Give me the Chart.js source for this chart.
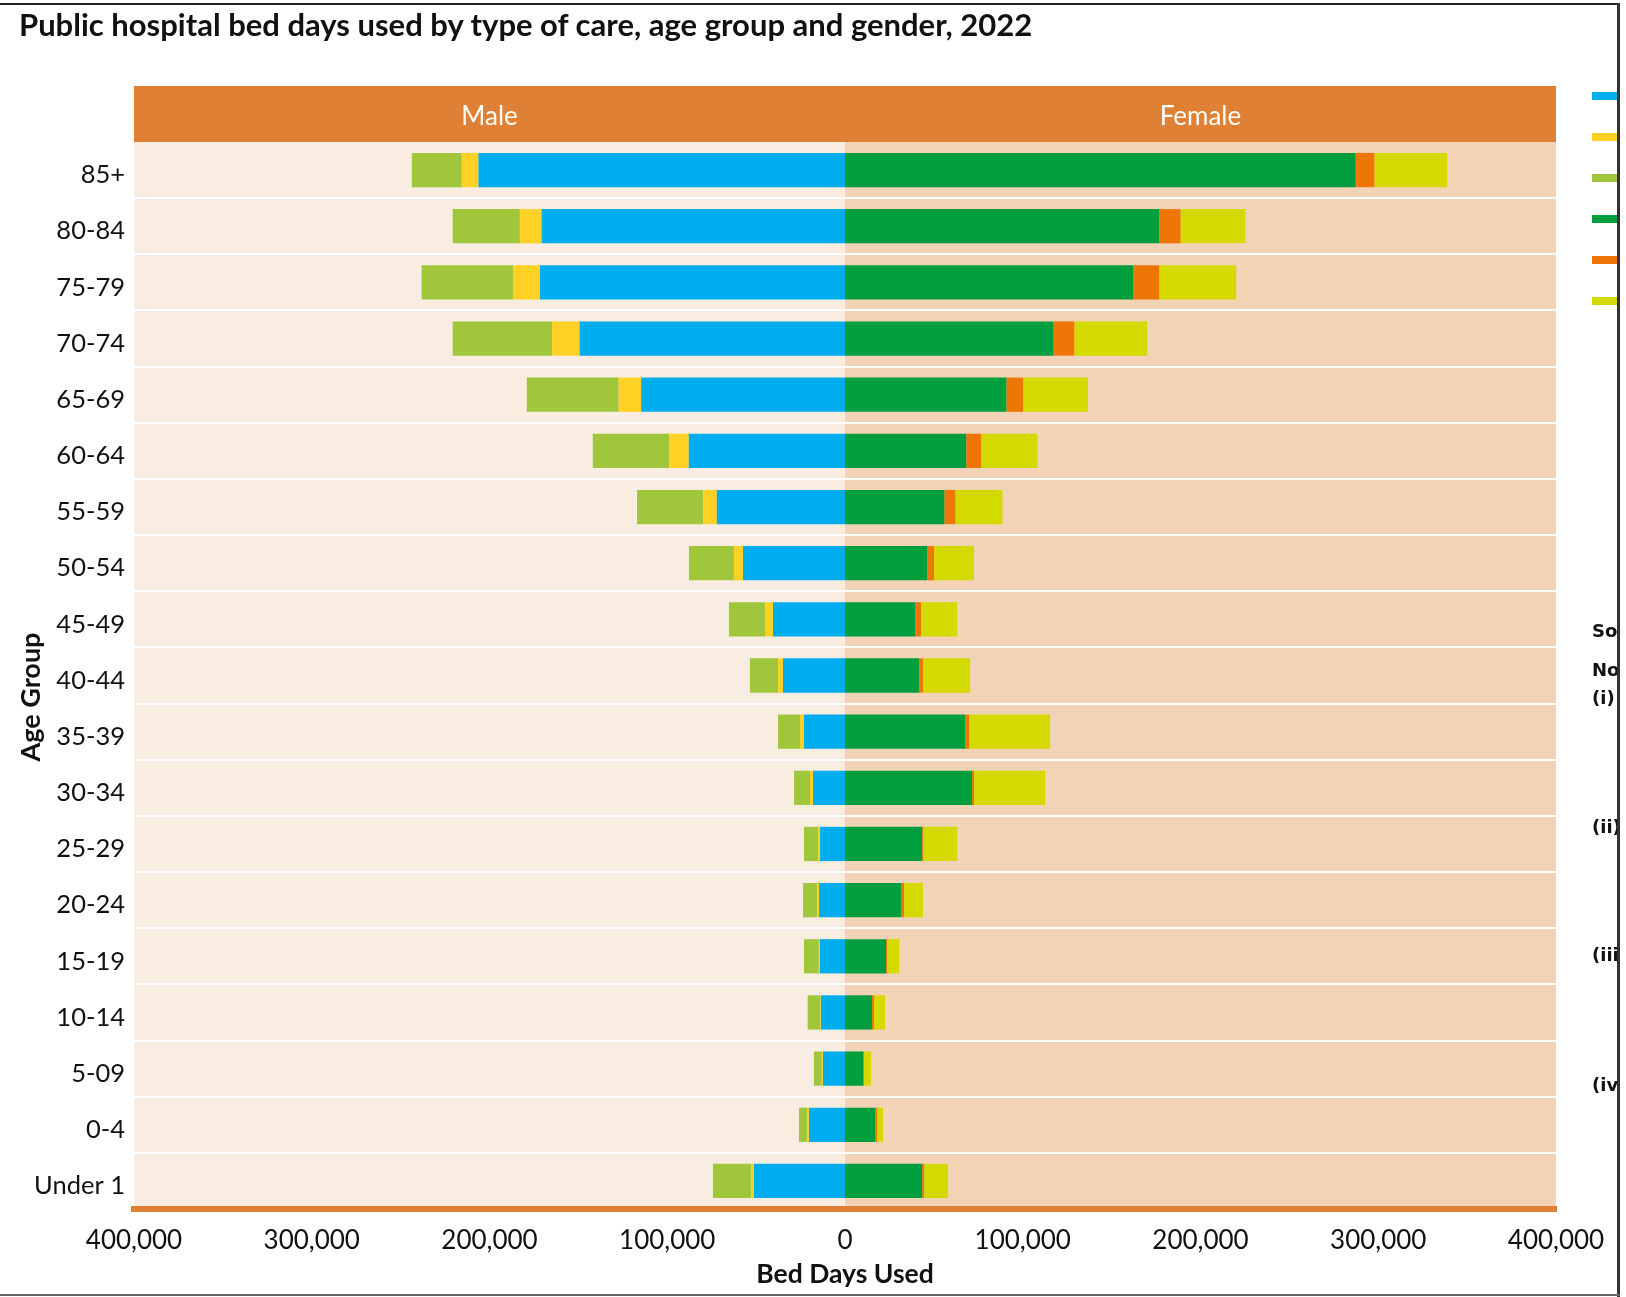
<!DOCTYPE html>
<html>
<head>
<meta charset="utf-8">
<script src="https://cdn.jsdelivr.net/npm/chart.js@4.4.1/dist/chart.umd.min.js"></script>
<style>
  body { margin: 0; background: #fff; overflow: hidden; }
  #wrap { position: absolute; left: 0; top: 0; width: 1626px; height: 1297px; }
  #title {
    position: absolute; left: 19px; top: 6px; margin: 0;
    font: bold 31px Lato, sans-serif; color: #111; line-height: 36px; white-space: nowrap;
  }
  #side { position: absolute; left: 1592px; top: 0; width: 26px; height: 1297px; overflow: hidden; }
  .swatch { position: absolute; left: 0; width: 40px; height: 8px; }
  .note { position: absolute; left: 0; font: bold 18px "DejaVu Sans", sans-serif; color: #111; white-space: nowrap; line-height: 22px; }
  .frame { position: absolute; }
</style>
</head>
<body>
<div id="wrap"><canvas id="pyramid"></canvas></div>
<h1 id="title">Public hospital bed days used by type of care, age group and gender, 2022</h1>
<div id="side"></div>
<div class="frame" style="left:0;top:3px;width:1620px;height:2px;background:#222"></div>
<div class="frame" style="left:1617px;top:3px;width:3px;height:1294px;background:#333"></div>
<div class="frame" style="left:0;top:1294px;width:1620px;height:2px;background:#666"></div>

<script>
// =======================
// Data
// =======================

const ageGroups = ["85+", "80-84", "75-79", "70-74", "65-69", "60-64", "55-59", "50-54", "45-49",
  "40-44", "35-39", "30-34", "25-29", "20-24", "15-19", "10-14", "5-09", "0-4", "Under 1"];

// male series (drawn to the left)
const maleTypeA = [206200, 170700, 171600, 149300, 114700, 87900, 72100, 57400, 40500, 34900,
  23100, 18000, 14100, 14600, 14100, 13500, 12400, 20300, 51200];
const maleTypeB = [9400, 12200, 15200, 15500, 12600, 11000, 7700, 5100, 4500, 2800,
  2200, 1700, 1100, 1100, 600, 200, 600, 1100, 1700];
const maleTypeC = [28100, 37800, 51400, 55900, 51700, 43000, 37200, 25300, 20300, 15800,
  12400, 9000, 7900, 7900, 8400, 7300, 4500, 4500, 21400];

// female series (drawn to the right)
const femaleTypeA = [287300, 176800, 162200, 117300, 90800, 68200, 55900, 46200, 39400, 41700,
  67600, 71500, 43400, 31500, 23100, 15200, 10300, 16900, 43400];
const femaleTypeB = [10500, 12000, 14600, 11700, 9400, 8400, 6200, 3900, 3400, 2200,
  2200, 1100, 600, 1700, 600, 1100, 400, 1100, 1100];
const femaleTypeC = [41000, 36500, 43300, 41000, 36500, 31700, 26500, 22500, 20300, 26500,
  45600, 40000, 19200, 10700, 6800, 6200, 3900, 3400, 13500];

const xTicks = [-400000, -300000, -200000, -100000, 0, 100000, 200000, 300000, 400000];

const seriesColors = ["#00ADEE", "#FFD124", "#A0C73C", "#009E3D", "#EE7607", "#D4DA00"];
const notes = [["Source:", 620], ["Notes:", 659], ["(i)", 687], ["(ii)", 816], ["(iii)", 944], ["(iv)", 1074]];

// =======================
// Side legend (cut off by the frame)
// =======================

const side = document.getElementById("side");
seriesColors.forEach((c, i) => {
  const d = document.createElement("div");
  d.className = "swatch";
  d.style.top = (92 + i * 41) + "px";
  d.style.background = c;
  side.appendChild(d);
});
notes.forEach(([t, y]) => {
  const d = document.createElement("div");
  d.className = "note";
  d.style.top = y + "px";
  d.textContent = t;
  side.appendChild(d);
});

// =======================
// Background, header, y title
// =======================

const panels = {
  id: "panels",
  beforeDraw(chart) {
    const { ctx, chartArea: a, scales } = chart;
    const zero = scales.x.getPixelForValue(0);
    ctx.save();
    ctx.fillStyle = "#F9ECE1";
    ctx.fillRect(a.left, a.top, zero - a.left, a.bottom - a.top);
    ctx.fillStyle = "#F3D3B6";
    ctx.fillRect(zero, a.top, a.right - zero, a.bottom - a.top);
    ctx.fillStyle = "#E08035";
    ctx.fillRect(a.left, 86, a.right - a.left, a.top - 86);
    ctx.fillStyle = "#fff";
    ctx.font = "26px Lato";
    ctx.textAlign = "center";
    ctx.textBaseline = "middle";
    ctx.fillText("Male", (a.left + zero) / 2, (86 + a.top) / 2 + 3);
    ctx.fillText("Female", (zero + a.right) / 2, (86 + a.top) / 2 + 3);

    // "Age Group" sits a little below the middle of the axis
    ctx.translate(31, 697);
    ctx.rotate(-Math.PI / 2);
    ctx.fillStyle = "#111";
    ctx.font = "bold 27px Lato";
    ctx.fillText("Age Group", 0, 0);
    ctx.restore();
  }
};

const fmt = v => Math.abs(v).toLocaleString("en-US");

function ds(label, values, color, sign) {
  return {
    label: label,
    data: values.map(v => sign * v),
    backgroundColor: color,
    borderWidth: 0,
    stack: "all",
    barPercentage: 0.61,
    categoryPercentage: 1
  };
}

const pyramid = document.getElementById("pyramid");

new Chart(pyramid, {
  type: "bar",
  data: {
    labels: ageGroups,
    datasets: [
      ds("Male A", maleTypeA, seriesColors[0], -1),
      ds("Male B", maleTypeB, seriesColors[1], -1),
      ds("Male C", maleTypeC, seriesColors[2], -1),
      ds("Female A", femaleTypeA, seriesColors[3], 1),
      ds("Female B", femaleTypeB, seriesColors[4], 1),
      ds("Female C", femaleTypeC, seriesColors[5], 1)
    ]
  },
  options: {
    indexAxis: "y",
    responsive: true,
    maintainAspectRatio: false,
    animation: false,
    layout: { padding: { left: 0, right: 70, top: 142, bottom: 0 } },
    plugins: {
      legend: { display: false },
      tooltip: { enabled: false }
    },
    scales: {
      x: {
        stacked: true,
        min: -400000,
        max: 400000,
        afterBuildTicks: s => { s.ticks = xTicks.map(v => ({ value: v })); },
        afterFit: s => { s.height = 88; },
        grid: { display: false, drawTicks: false },
        border: { display: true, color: "#E08035", width: 6 },
        ticks: {
          padding: 16,
          color: "#111",
          font: { family: "Lato", size: 26 },
          maxRotation: 0,
          callback: v => fmt(v)
        },
        title: {
          display: true,
          text: "Bed Days Used",
          color: "#111",
          font: { family: "Lato", size: 26.5, weight: "bold" },
          padding: { top: 0, bottom: 7 }
        }
      },
      y: {
        stacked: true,
        afterFit: s => { s.width = 134; },
        grid: {
          drawTicks: false,
          lineWidth: 2,
          color: c => (c.index === 0 || c.index === ageGroups.length) ? "rgba(0,0,0,0)" : "#ffffff"
        },
        border: { display: false },
        ticks: {
          padding: 9,
          labelOffset: 5,
          color: "#111",
          font: { family: "Lato", size: 25.5 }
        }
      }
    }
  },
  plugins: [panels]
});
</script>
</body>
</html>
